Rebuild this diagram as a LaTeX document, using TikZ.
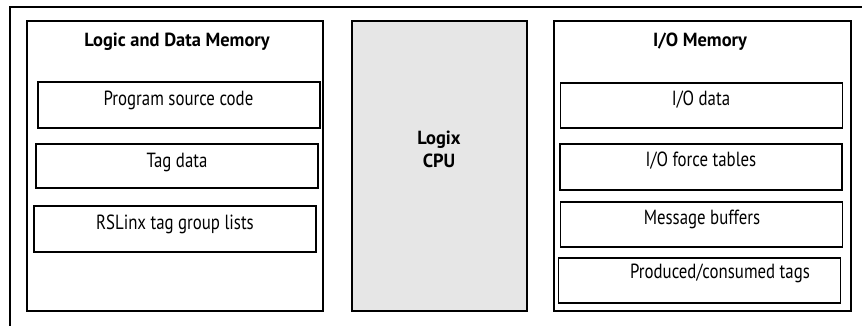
\documentclass[tikz,border=0pt]{standalone}
\usepackage{fontspec}
\setmainfont{PT Sans}[FakeStretch=0.82]
\newfontfamily\headfont{PT Sans}[FakeStretch=0.97]
\usetikzlibrary{positioning}
\definecolor{cpugray}{HTML}{E6E6E6}
\tikzset{
    membox/.style={draw, line width=1.5pt, rectangle, minimum height=290, inner sep=0pt},
    cellbox/.style={draw, line width=1.5pt, rectangle, minimum width=282, inner sep=0pt},
    celltext/.style={font=\fontsize{20.5}{24}\selectfont, inner sep=0pt},
    headtext/.style={font=\headfont\fontsize{19}{23}\selectfont\bfseries, inner sep=0pt, align=center}
}
\begin{document}
\begin{tikzpicture}[x=1pt, y=-1pt]
    \useasboundingbox (0,0) rectangle (862,326);

    % outer frame, only top and left edges show
    \coordinate (frametop) at (862,7);
    \coordinate (framecorner) at (10,7);
    \coordinate (framebottom) at (10,326);
    \draw[line width=1.5pt] (frametop) -- (framecorner) -- (framebottom);

    % three columns
    \node[membox, minimum width=296] (logicmem) at (175,166) {};
    \node[membox, minimum width=175, fill=cpugray] (cpu) at (439.5,166) {};
    \node[membox, minimum width=297] (iomem) at (702.5,166) {};

    \node[headtext] (logichead) at (177,42) {Logic and Data Memory};
    \node[headtext] (iohead) at (700,42) {I/O Memory};
    \node[headtext] (cpuhead) at (439,149) {Logix\\CPU};

    % left cells
    \foreach[count=\i] \cx/\cy/\h/\tx/\ty/\txt in {
        179/105/46/178.5/100/{Program source code},
        177/166/44/177/162/{Tag data},
        175/229/46/175/224/{RSLinx tag group lists}} {
        \node[cellbox, minimum height=\h] (lcell\i) at (\cx,\cy) {};
        \node[celltext] (ltext\i) at (\tx,\ty) {\txt};
    }

    % right cells
    \foreach[count=\i] \cx/\cy/\h/\tx/\ty/\txt in {
        701.5/105.5/45/701/100/{I/O data},
        701/167/46/701/161/{I/O force tables},
        701.5/224.5/45/702/219/{Message buffers},
        699.5/280.5/45/720/273/{Produced/consumed tags}} {
        \node[cellbox, minimum height=\h] (rcell\i) at (\cx,\cy) {};
        \node[celltext] (rtext\i) at (\tx,\ty) {\txt};
    }
\end{tikzpicture}
\end{document}
